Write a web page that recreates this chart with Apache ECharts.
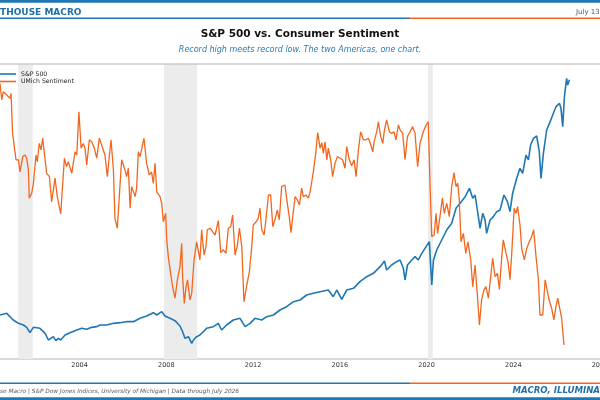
<!DOCTYPE html>
<html>
<head>
<meta charset="utf-8">
<script src="https://cdn.jsdelivr.net/npm/echarts@6/dist/echarts.min.js"></script>
<style>
  html, body { margin: 0; padding: 0; background: #fff; }
  #chart { width: 600px; height: 400px; }
</style>
</head>
<body>
<div id="chart"></div>
<script>
// S&P 500 vs UMich sentiment
const sentDates = [
  2000.33, 2000.41, 2000.48, 2000.64, 2000.79, 2000.84, 2000.91, 2001.07, 2001.18, 2001.25,
  2001.38, 2001.48, 2001.56, 2001.64, 2001.68, 2001.79, 2001.87, 2001.99, 2002.05, 2002.14,
  2002.22, 2002.30, 2002.48, 2002.61, 2002.71, 2002.87, 2002.97, 2003.13, 2003.30, 2003.40,
  2003.48, 2003.64, 2003.79, 2003.87, 2003.97, 2004.07, 2004.17, 2004.25, 2004.33, 2004.45,
  2004.56, 2004.68, 2004.79, 2004.91, 2005.02, 2005.17, 2005.28, 2005.37, 2005.45, 2005.56,
  2005.63, 2005.74, 2005.86, 2005.94, 2006.02, 2006.09, 2006.17, 2006.25, 2006.33, 2006.40,
  2006.48, 2006.56, 2006.63, 2006.71, 2006.79, 2006.86, 2006.97, 2007.09, 2007.22, 2007.32,
  2007.40, 2007.48, 2007.56, 2007.63, 2007.71, 2007.79, 2007.86, 2007.97, 2008.02, 2008.09,
  2008.20, 2008.29, 2008.40, 2008.51, 2008.63, 2008.71, 2008.75, 2008.83, 2008.91, 2008.98,
  2009.09, 2009.17, 2009.28, 2009.40, 2009.55, 2009.63, 2009.74, 2009.83, 2009.89, 2010.02,
  2010.14, 2010.25, 2010.40, 2010.51, 2010.63, 2010.75, 2010.86, 2010.97, 2011.06, 2011.17,
  2011.28, 2011.37, 2011.48, 2011.58, 2011.71, 2011.83, 2011.94, 2012.01, 2012.14, 2012.24,
  2012.32, 2012.40, 2012.51, 2012.60, 2012.71, 2012.81, 2012.91, 2013.01, 2013.12, 2013.21,
  2013.32, 2013.47, 2013.58, 2013.67, 2013.75, 2013.83, 2013.94, 2014.04, 2014.14, 2014.24,
  2014.32, 2014.44, 2014.55, 2014.63, 2014.78, 2014.89, 2014.98, 2015.09, 2015.17, 2015.24,
  2015.32, 2015.40, 2015.47, 2015.58, 2015.67, 2015.78, 2015.89, 2016.01, 2016.13, 2016.24,
  2016.32, 2016.44, 2016.55, 2016.66, 2016.75, 2016.86, 2016.96, 2017.09, 2017.20, 2017.32,
  2017.43, 2017.52, 2017.58, 2017.70, 2017.78, 2017.89, 2017.98, 2018.06, 2018.16, 2018.29,
  2018.39, 2018.50, 2018.59, 2018.70, 2018.78, 2018.90, 2019.01, 2019.12, 2019.24, 2019.36,
  2019.47, 2019.59, 2019.70, 2019.85, 2019.98, 2020.08, 2020.16, 2020.24, 2020.35, 2020.44,
  2020.51, 2020.62, 2020.73, 2020.82, 2020.93, 2021.05, 2021.16, 2021.27, 2021.36, 2021.44,
  2021.51, 2021.59, 2021.70, 2021.81, 2021.91, 2022.04, 2022.13, 2022.24, 2022.34, 2022.44,
  2022.54, 2022.65, 2022.74, 2022.85, 2022.96, 2023.05, 2023.16, 2023.27, 2023.36, 2023.47,
  2023.54, 2023.67, 2023.77, 2023.85, 2023.93, 2024.04, 2024.13, 2024.20, 2024.31, 2024.39,
  2024.51, 2024.62, 2024.74, 2024.85, 2024.94, 2025.05, 2025.16, 2025.23, 2025.36, 2025.47,
  2025.54, 2025.65, 2025.77, 2025.87, 2025.97, 2026.05, 2026.13, 2026.23, 2026.34
];
const sentValues = [
  108.9, 104.8, 106.8, 106.0, 105.2, 106.4, 96.4, 89.8, 89.8, 86.8,
  90.6, 91.0, 90.2, 87.3, 80.2, 81.4, 83.9, 91.0, 89.3, 93.9,
  92.3, 95.2, 86.4, 85.6, 79.3, 85.2, 80.6, 76.3, 90.2, 88.1,
  89.3, 86.4, 91.8, 91.0, 101.8, 92.7, 93.9, 92.7, 88.5, 94.8,
  94.3, 92.7, 90.2, 95.2, 93.5, 91.0, 85.6, 90.6, 94.8, 87.3,
  75.2, 72.7, 83.1, 89.8, 89.3, 87.3, 85.6, 87.7, 77.7, 83.1,
  83.1, 80.6, 82.7, 91.8, 90.6, 90.2, 95.2, 88.9, 86.0, 86.8,
  83.9, 88.9, 81.8, 81.8, 80.6, 78.9, 74.3, 76.4, 69.8, 65.6,
  61.4, 58.1, 55.2, 59.8, 63.1, 68.9, 60.6, 53.9, 58.1, 59.8,
  54.8, 56.4, 64.8, 69.3, 64.8, 72.3, 66.0, 68.1, 72.3, 72.7,
  71.8, 71.0, 74.6, 66.6, 67.3, 66.4, 72.7, 73.1, 76.0, 66.0,
  68.5, 72.7, 68.1, 54.3, 58.5, 61.8, 68.1, 73.5, 74.3, 75.2,
  77.7, 72.3, 71.0, 75.2, 81.0, 81.0, 73.1, 74.8, 77.3, 74.8,
  83.1, 83.5, 78.9, 75.6, 71.6, 75.6, 80.6, 79.8, 78.5, 82.7,
  80.6, 81.0, 80.2, 81.8, 86.8, 91.4, 96.6, 92.7, 94.1, 91.4,
  94.3, 89.8, 92.7, 89.8, 85.6, 88.9, 90.6, 90.2, 89.8, 87.7,
  93.1, 89.8, 88.3, 89.8, 85.6, 92.3, 96.8, 94.8, 94.8, 95.2,
  93.5, 91.8, 94.3, 96.8, 99.3, 95.6, 93.9, 97.3, 99.8, 96.8,
  96.4, 96.8, 94.8, 98.5, 97.3, 96.4, 89.8, 95.6, 96.8, 98.1,
  96.4, 88.1, 93.9, 96.8, 98.5, 99.3, 83.9, 70.6, 71.0, 76.4,
  71.4, 75.6, 80.2, 76.4, 78.9, 75.6, 83.1, 86.6, 83.1, 83.9,
  79.8, 69.3, 71.4, 66.4, 69.3, 64.8, 58.1, 63.5, 56.4, 48.5,
  54.8, 57.3, 58.1, 55.2, 60.6, 65.2, 60.6, 61.4, 57.4, 65.6,
  69.8, 66.4, 63.9, 59.8, 66.4, 77.7, 76.4, 78.1, 73.5, 67.6,
  64.8, 67.6, 69.3, 70.6, 72.3, 65.6, 59.8, 51.0, 51.0, 59.8,
  60.2, 54.8, 52.7, 49.8, 53.1, 55.2, 54.8, 50.2, 43.5
];

const spxDates = [
  2000.33, 2000.64, 2000.94, 2001.18, 2001.41, 2001.56, 2001.71, 2001.87, 2002.17, 2002.41,
  2002.56, 2002.79, 2002.91, 2003.02, 2003.13, 2003.33, 2003.56, 2003.87, 2004.10, 2004.33,
  2004.56, 2004.79, 2004.94, 2005.25, 2005.56, 2005.86, 2006.17, 2006.48, 2006.79, 2007.09,
  2007.40, 2007.56, 2007.79, 2007.94, 2008.17, 2008.40, 2008.63, 2008.75, 2008.86, 2009.02,
  2009.17, 2009.25, 2009.40, 2009.55, 2009.86, 2010.17, 2010.40, 2010.55, 2010.78, 2011.09,
  2011.40, 2011.63, 2011.86, 2012.09, 2012.40, 2012.63, 2012.94, 2013.24, 2013.55, 2013.86,
  2014.17, 2014.47, 2014.78, 2015.09, 2015.47, 2015.70, 2015.86, 2016.09, 2016.32, 2016.63,
  2016.93, 2017.24, 2017.55, 2017.86, 2018.06, 2018.16, 2018.39, 2018.62, 2018.78, 2018.93,
  2019.01, 2019.12, 2019.32, 2019.47, 2019.62, 2019.78, 2019.98, 2020.13, 2020.24, 2020.32,
  2020.47, 2020.70, 2020.93, 2021.16, 2021.36, 2021.55, 2021.78, 2021.98, 2022.13, 2022.24,
  2022.39, 2022.47, 2022.59, 2022.70, 2022.77, 2022.93, 2023.08, 2023.24, 2023.39, 2023.57,
  2023.73, 2023.85, 2023.97, 2024.16, 2024.31, 2024.43, 2024.59, 2024.70, 2024.80, 2024.93,
  2025.08, 2025.20, 2025.28, 2025.39, 2025.54, 2025.70, 2025.85, 2025.97, 2026.13, 2026.20,
  2026.28, 2026.36, 2026.46, 2026.51, 2026.59
];
const spxValues = [
  1320, 1370, 1170, 1070, 1020, 950, 790, 950, 920, 770,
  570, 670, 550, 620, 570, 720, 790, 870, 920, 890,
  950, 970, 1020, 1020, 1070, 1090, 1120, 1120, 1220, 1290,
  1390, 1320, 1420, 1290, 1220, 1150, 990, 820, 620, 670,
  470, 570, 670, 720, 920, 970, 1070, 870, 1020, 1170,
  1220, 970, 1070, 1220, 1170, 1270, 1320, 1470, 1570, 1720,
  1770, 1920, 1970, 2020, 2070, 1870, 2070, 1790, 2070, 2120,
  2320, 2470, 2570, 2770, 2940, 2670, 2820, 2920, 2970, 2720,
  2370, 2820, 2970, 3070, 2970, 3170, 3370, 3520, 2220, 2970,
  3270, 3570, 3870, 4070, 4520, 4670, 4870, 5120, 4820, 4920,
  4270, 3920, 4370, 4170, 3770, 4170, 4270, 4420, 4470, 4920,
  4720, 4420, 4970, 5420, 5720, 5570, 6120, 5970, 6420, 6620,
  6690, 6220, 5420, 6170, 6870, 7120, 7370, 7570, 7670, 7520,
  6970, 7870, 8420, 8220, 8380
];

// recessions (start, end)
const recessionStarts = [2001.17, 2007.89, 2020.07];
const recessionEnds = [2001.84, 2009.42, 2020.29];

const tickYears = [2004, 2008, 2012, 2016, 2020, 2024, 2028];

const BLUE = "#1f78b4";
const ORANGE = "#f2671f";
const FONT = "DejaVu Sans";

const chart = echarts.init(document.getElementById("chart"), null, { renderer: "canvas" });

const recessionAreas = recessionStarts.map((s, i) => [{ xAxis: s }, { xAxis: recessionEnds[i] }]);

const option = {
  animation: false,
  backgroundColor: "#ffffff",
  textStyle: { fontFamily: FONT },
  grid: { left: 0, right: 0, top: 64, bottom: 41, containLabel: false, outerBoundsMode: "none" },
  legend: {
    orient: "vertical",
    left: -6,
    top: 66,
    icon: "rect",
    itemWidth: 17,
    itemHeight: 1.6,
    itemGap: 1.5,
    textStyle: { fontSize: 6.2, color: "#222", fontFamily: FONT, padding: [0, 0, 0, 0] },
    data: ["S&P 500", "UMich Sentiment"],
  },
  xAxis: {
    type: "value",
    min: 2000.33,
    max: 2028,
    splitLine: { show: false },
    axisLine: { show: true, lineStyle: { color: "#cccccc", width: 1.5 } },
    axisTick: { show: false },
    axisLabel: {
      customValues: tickYears,
      margin: 3,
      fontSize: 6.5,
      color: "#333",
      fontFamily: FONT,
      formatter: (v) => String(v),
    },
  },
  yAxis: [
    { type: "value", min: 0, max: 8850, show: false, splitLine: { show: false } },
    { type: "value", min: 40, max: 113.75, show: false, splitLine: { show: false } },
  ],
  series: [
    {
      name: "recessions",
      type: "line",
      data: [],
      z: 1,
      silent: true,
      markArea: {
        silent: true,
        itemStyle: { color: "#ececec" },
        data: recessionAreas,
      },
    },
    {
      name: "S&P 500",
      type: "line",
      yAxisIndex: 0,
      data: spxDates.map((d, i) => [d, spxValues[i]]),
      showSymbol: false,
      z: 3,
      lineStyle: { color: BLUE, width: 1.6 },
      itemStyle: { color: BLUE },
    },
    {
      name: "UMich Sentiment",
      type: "line",
      yAxisIndex: 1,
      data: sentDates.map((d, i) => [d, sentValues[i]]),
      showSymbol: false,
      z: 4,
      lineStyle: { color: ORANGE, width: 1.3 },
      itemStyle: { color: ORANGE },
    },
  ],
  graphic: [
    { type: "rect", shape: { x: 0, y: 0, width: 600, height: 2.7 }, style: { fill: BLUE } },
    {
      type: "text", x: 0, y: 13,
      style: { text: "THOUSE MACRO", fill: "#1f6fa8", fontSize: 9, fontWeight: "bold", fontFamily: FONT, align: "left", verticalAlign: "middle" },
    },
    {
      type: "text", x: 576, y: 12.3,
      style: { text: "July 13", fill: "#555", fontSize: 7, fontFamily: FONT, align: "left", verticalAlign: "middle" },
    },
    { type: "line", shape: { x1: 0, y1: 18.3, x2: 410, y2: 18.3 }, style: { stroke: BLUE, lineWidth: 1.5 } },
    { type: "line", shape: { x1: 410, y1: 18.3, x2: 600, y2: 18.3 }, style: { stroke: ORANGE, lineWidth: 1.5 } },
    {
      type: "text", x: 300, y: 34,
      style: { text: "S&P 500 vs. Consumer Sentiment", fill: "#111", fontSize: 10.5, fontWeight: "bold", fontFamily: FONT, align: "center", verticalAlign: "middle" },
    },
    {
      type: "text", x: 300, y: 49.5,
      style: { text: "Record high meets record low. The two Americas, one chart.", fill: "#2b7bb2", fontSize: 8, fontStyle: "italic", fontFamily: FONT, align: "center", verticalAlign: "middle" },
    },
    { type: "line", z: 10, shape: { x1: 0, y1: 64, x2: 600, y2: 64 }, style: { stroke: "#cccccc", lineWidth: 1.5 } },
    { type: "line", shape: { x1: 0, y1: 383.2, x2: 410, y2: 383.2 }, style: { stroke: BLUE, lineWidth: 1.5 } },
    { type: "line", shape: { x1: 410, y1: 383.2, x2: 600, y2: 383.2 }, style: { stroke: ORANGE, lineWidth: 1.5 } },
    {
      type: "text", x: 0, y: 391.5,
      style: { text: "se Macro | S&P Dow Jones Indices, University of Michigan | Data through July 2026", fill: "#555", fontSize: 5.8, fontStyle: "italic", fontFamily: FONT, align: "left", verticalAlign: "middle" },
    },
    {
      type: "text", x: 512.5, y: 391,
      style: { text: "MACRO, ILLUMINATED", fill: "#1f6fa8", fontSize: 8.6, fontWeight: "bold", fontStyle: "italic", fontFamily: FONT, align: "left", verticalAlign: "middle" },
    },
    { type: "rect", shape: { x: 0, y: 397.3, width: 600, height: 2.7 }, style: { fill: BLUE } },
  ],
};

chart.setOption(option);
</script>
</body>
</html>
